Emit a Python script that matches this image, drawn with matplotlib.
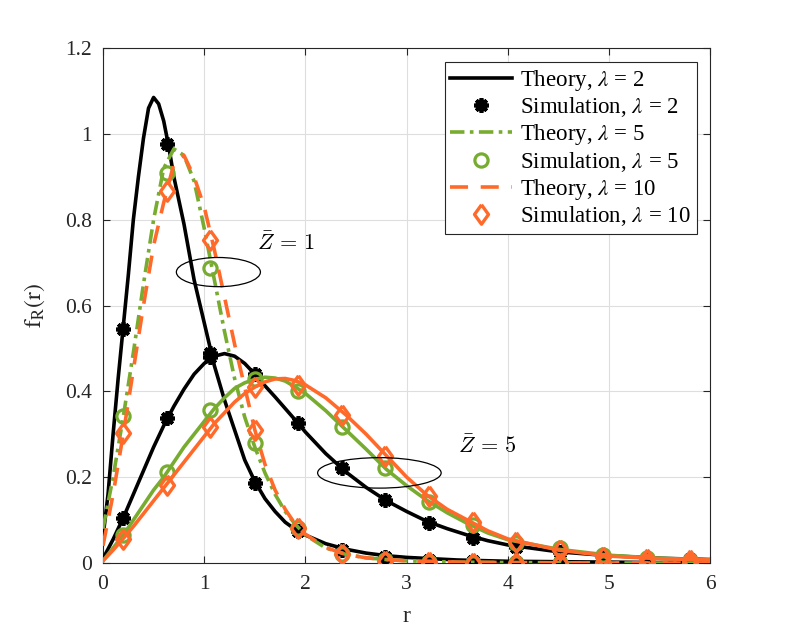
import matplotlib
matplotlib.use("Agg")
import matplotlib.pyplot as plt
from matplotlib.patches import Ellipse
from matplotlib.lines import Line2D

plt.rcParams["font.family"] = ["Liberation Serif", "DejaVu Serif"]
plt.rcParams["mathtext.fontset"] = "stix"

# theory curves, Z = 1
x_z1_l2 = [0, 0.05, 0.1, 0.15, 0.2, 0.25, 0.3, 0.35, 0.4, 0.45, 0.5, 0.55, 0.6, 0.65, 0.7, 0.8, 0.9,
           1.0, 1.1, 1.2, 1.3, 1.4, 1.5, 1.6, 1.7, 1.8, 1.9, 2.0, 2.2, 2.4, 2.6, 2.8, 3.0, 3.5, 4.0,
           4.5, 5.0, 5.5, 6.0]
y_z1_l2 = [0.06, 0.16, 0.30, 0.43, 0.55, 0.67, 0.80, 0.90, 0.99, 1.06, 1.085, 1.07, 1.03, 0.97, 0.90,
           0.79, 0.66, 0.56, 0.46, 0.38, 0.31, 0.24, 0.19, 0.15, 0.12, 0.095, 0.078, 0.065, 0.045,
           0.032, 0.023, 0.017, 0.013, 0.007, 0.004, 0.003, 0.002, 0.001, 0.001]

x_z1 = [0, 0.1, 0.2, 0.3, 0.4, 0.5, 0.6, 0.7, 0.8, 0.9, 1.0, 1.1, 1.2, 1.3, 1.4, 1.5, 1.6, 1.7,
        1.8, 1.9, 2.0, 2.2, 2.4, 2.6, 2.8, 3.0, 3.5, 4.0, 5.0, 6.0]
y_z1_l5 = [0.08, 0.20, 0.34, 0.49, 0.65, 0.80, 0.92, 0.965, 0.95, 0.89, 0.78, 0.66, 0.54, 0.43,
           0.34, 0.27, 0.21, 0.16, 0.12, 0.09, 0.065, 0.035, 0.02, 0.012, 0.008, 0.005, 0.002,
           0.001, 0.0, 0.0]
y_z1_l10 = [0.04, 0.16, 0.30, 0.45, 0.60, 0.74, 0.84, 0.93, 0.95, 0.90, 0.83, 0.73, 0.62, 0.51,
            0.41, 0.31, 0.23, 0.17, 0.125, 0.09, 0.067, 0.036, 0.02, 0.012, 0.008, 0.005, 0.002,
            0.001, 0.0, 0.0]

# theory curves, Z = 5
x_z5 = [0, 0.1, 0.2, 0.3, 0.4, 0.5, 0.6, 0.7, 0.8, 0.9, 1.0, 1.1, 1.2, 1.3, 1.4, 1.5, 1.6, 1.7,
        1.8, 1.9, 2.0, 2.2, 2.4, 2.6, 2.8, 3.0, 3.2, 3.4, 3.6, 3.8, 4.0, 4.5, 5.0, 5.5, 6.0]
y_z5_l2 = [0.01, 0.055, 0.105, 0.16, 0.215, 0.27, 0.32, 0.365, 0.405, 0.44, 0.465, 0.482, 0.488,
           0.482, 0.465, 0.44, 0.413, 0.387, 0.36, 0.333, 0.305, 0.255, 0.212, 0.176, 0.145,
           0.12, 0.097, 0.08, 0.065, 0.052, 0.042, 0.026, 0.017, 0.011, 0.008]
y_z5_l5 = [0.005, 0.035, 0.065, 0.1, 0.135, 0.17, 0.2, 0.235, 0.27, 0.3, 0.33, 0.36, 0.385, 0.407,
           0.42, 0.428, 0.433, 0.431, 0.424, 0.41, 0.395, 0.355, 0.31, 0.265, 0.218, 0.18, 0.146,
           0.117, 0.092, 0.07, 0.054, 0.032, 0.018, 0.011, 0.007]
y_z5_l10 = [0.005, 0.03, 0.057, 0.085, 0.115, 0.145, 0.175, 0.205, 0.235, 0.265, 0.295, 0.325,
            0.35, 0.375, 0.395, 0.41, 0.422, 0.429, 0.43, 0.425, 0.415, 0.385, 0.345, 0.30, 0.25,
            0.20, 0.158, 0.125, 0.1, 0.075, 0.056, 0.03, 0.016, 0.01, 0.007]

# simulation points
x_sim = [0.2, 0.63, 1.06, 1.5, 1.93, 2.36, 2.79, 3.22, 3.65, 4.08, 4.51, 4.94, 5.37, 5.8]
sim_z1_l2 = [0.545, 0.977, 0.49, 0.186, 0.075, 0.03, 0.015, 0.008, 0.005, 0.003, 0.002, 0.001,
             0.001, 0.001]
sim_z1_l5 = [0.343, 0.909, 0.687, 0.279, 0.082, 0.022, 0.006, 0.002, 0.001, 0.0, 0.0, 0.0, 0.0, 0.0]
sim_z1_l10 = [0.303, 0.866, 0.753, 0.31, 0.082, 0.02, 0.005, 0.002, 0.001, 0.0, 0.0, 0.0, 0.0, 0.0]
sim_z5_l2 = [0.105, 0.338, 0.481, 0.44, 0.327, 0.221, 0.147, 0.093, 0.058, 0.038, 0.025, 0.018,
             0.012, 0.009]
sim_z5_l5 = [0.065, 0.213, 0.357, 0.428, 0.40, 0.318, 0.221, 0.143, 0.089, 0.046, 0.034, 0.019,
             0.012, 0.008]
sim_z5_l10 = [0.057, 0.182, 0.318, 0.411, 0.415, 0.345, 0.249, 0.155, 0.096, 0.05, 0.03, 0.015,
              0.01, 0.008]

BLACK = "#000000"
GREEN = "#77AC30"
ORANGE = "#FF6A2B"
LW = 2.6
DASHDOT = (0, (4, 1.5, 1, 1.5))
DASHED = (0, (5, 3.5))
DIAMOND = [(0, 1), (0.72, 0), (0, -1), (-0.72, 0), (0, 1)]

fig = plt.figure(figsize=(7.89, 6.33), dpi=100)
ax = fig.add_axes([0.1305, 0.1106, 0.770, 0.8134])

star = dict(marker=(8, 2, 0), markersize=10.5, markeredgewidth=2.7, color=BLACK, linestyle="none")
circ = dict(marker="o", markersize=9.5, markeredgewidth=2.3, markerfacecolor="none",
            markeredgecolor=GREEN, linestyle="none")
diam = dict(marker=DIAMOND, markersize=14, markeredgewidth=2.4, markerfacecolor="none",
            markeredgecolor=ORANGE, linestyle="none")

# lambda = 2
ax.plot(x_z1_l2, y_z1_l2, color=BLACK, lw=LW, zorder=3)
ax.plot(x_z5, y_z5_l2, color=BLACK, lw=LW, zorder=3)
ax.plot(x_sim, sim_z1_l2, zorder=4, **star)
ax.plot(x_sim, sim_z5_l2, zorder=4, **star)
# lambda = 5
ax.plot(x_z1, y_z1_l5, color=GREEN, lw=LW, linestyle=DASHDOT, zorder=5)
ax.plot(x_z5, y_z5_l5, color=GREEN, lw=LW, zorder=5)
ax.plot(x_sim, sim_z1_l5, zorder=6, **circ)
ax.plot(x_sim, sim_z5_l5, zorder=6, **circ)
# lambda = 10
ax.plot(x_z1, y_z1_l10, color=ORANGE, lw=LW, linestyle=DASHED, zorder=7)
ax.plot(x_z5, y_z5_l10, color=ORANGE, lw=LW, zorder=7)
ax.plot(x_sim, sim_z1_l10, zorder=8, **diam)
ax.plot(x_sim, sim_z5_l10, zorder=8, **diam)

# annotations
ax.add_patch(Ellipse((1.14, 0.678), 0.83, 0.068, fill=False, edgecolor="black", lw=0.9, zorder=9))
ax.add_patch(Ellipse((2.73, 0.21), 1.22, 0.071, fill=False, edgecolor="black", lw=0.9, zorder=9))
ax.text(1.52, 0.745, r"$\bar{Z}\,=\,1$", fontsize=16, math_fontfamily="cm", va="center")
ax.text(3.51, 0.27, r"$\bar{Z}\,=\,5$", fontsize=16, math_fontfamily="cm", va="center")

ax.set_xlim(0, 6)
ax.set_ylim(0, 1.2)
ax.set_xticks(range(7))
ax.set_yticks([0, 0.2, 0.4, 0.6, 0.8, 1.0, 1.2])
ax.set_yticklabels(["0", "0.2", "0.4", "0.6", "0.8", "1", "1.2"])
ax.tick_params(direction="in", length=5, width=0.8, labelsize=15.5, colors="#262626",
               top=True, right=True)
ax.tick_params(axis="x", pad=9)
ax.tick_params(axis="y", pad=8)
for s in ax.spines.values():
    s.set_color("#262626")
    s.set_linewidth(0.8)
ax.grid(True, color="#dedede", lw=0.8)
ax.set_axisbelow(True)

ax.set_xlabel("r", fontsize=17, color="#262626", labelpad=8)
ax.set_ylabel(r"$\mathrm{f_R(r)}$", fontsize=17, color="#262626", labelpad=13)

handles = [
    Line2D([], [], color=BLACK, lw=LW),
    Line2D([], [], **star),
    Line2D([], [], color=GREEN, lw=LW, linestyle=DASHDOT),
    Line2D([], [], **circ),
    Line2D([], [], color=ORANGE, lw=LW, linestyle=DASHED),
    Line2D([], [], **diam),
]
labels = [
    r"Theory, $\lambda$ = 2",
    r"Simulation, $\lambda$ = 2",
    r"Theory, $\lambda$ = 5",
    r"Simulation, $\lambda$ = 5",
    r"Theory, $\lambda$ = 10",
    r"Simulation, $\lambda$ = 10",
]
leg = ax.legend(handles, labels, loc="upper right", bbox_to_anchor=(0.977, 0.973),
                borderaxespad=0, fontsize=16.5, handlelength=2.7, handletextpad=0.35,
                labelspacing=0.12, borderpad=0.25, fancybox=False, framealpha=1,
                edgecolor="#262626")
leg.get_frame().set_linewidth(0.8)

fig.savefig("out.png", dpi=100)
